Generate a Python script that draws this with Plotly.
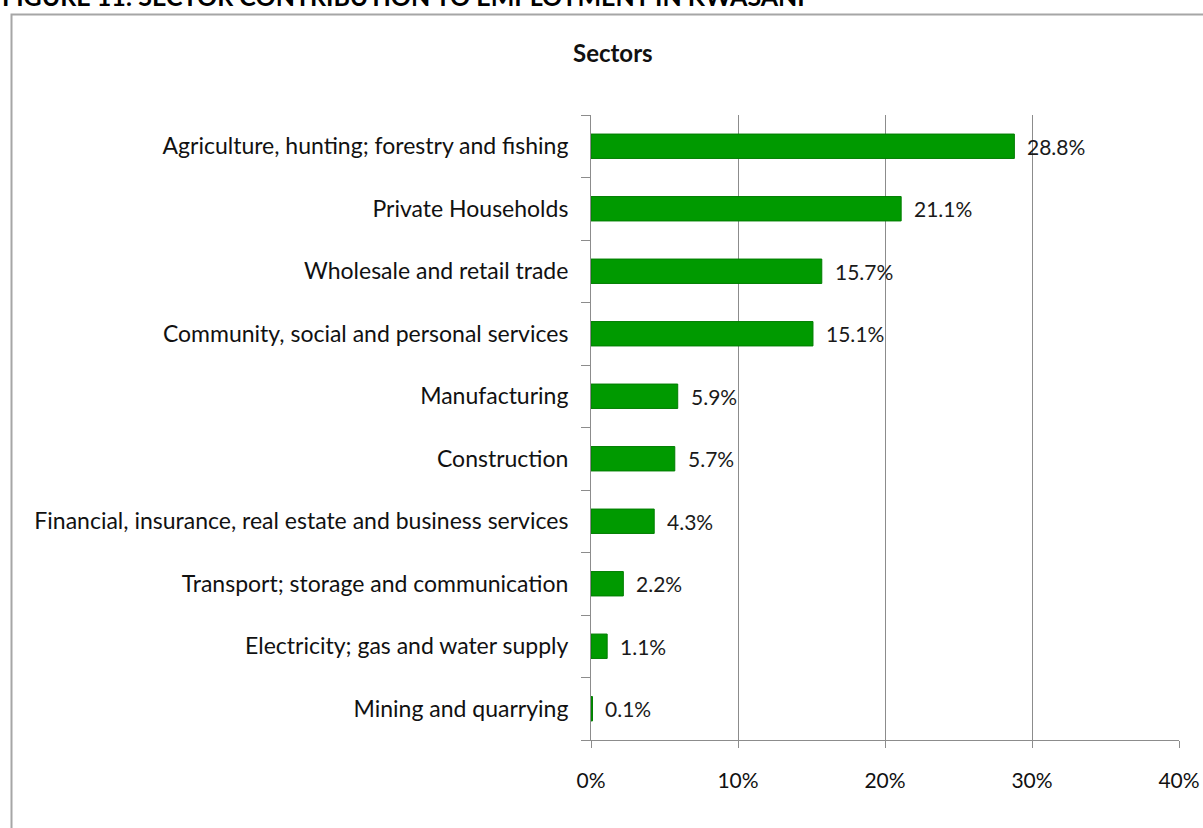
import plotly.graph_objects as go

# Employment share by sector (percent)
sectors = [
    "Agriculture, hunting; forestry and fishing",
    "Private Households",
    "Wholesale and retail trade",
    "Community, social and personal services",
    "Manufacturing",
    "Construction",
    "Financial, insurance, real estate and business services",
    "Transport; storage and communication",
    "Electricity; gas and water supply",
    "Mining and quarrying",
]
shares = [28.8, 21.1, 15.7, 15.1, 5.9, 5.7, 4.3, 2.2, 1.1, 0.1]
x_ticks = [0, 10, 20, 30, 40]
x_tick_labels = ["0%", "10%", "20%", "30%", "40%"]

FONT = "Lato"
W, H = 1203, 828
L, R, T, B = 591, 24, 115, 88
pw, ph = W - L - R, H - T - B

# plot from bottom to top so the largest sector is on top
cats = sectors[::-1]
vals = shares[::-1]

fig = go.Figure()
fig.add_trace(go.Bar(
    y=cats, x=vals, orientation="h",
    marker=dict(color="#009a00", line=dict(color="#007d00", width=1)),
    width=0.39,
    hoverinfo="skip",
))

# value labels beside each bar
for c, v in zip(cats, vals):
    fig.add_annotation(
        x=v, y=c, text=f"{v:.1f}%", showarrow=False,
        xanchor="left", yanchor="middle", xshift=11,
        font=dict(family=FONT, size=21, color="#1a1a1a"),
    )

fig.add_annotation(
    x=(613 - L) / pw, y=1 + (T - 52) / ph, xref="paper", yref="paper",
    text="<b>Sectors</b>", showarrow=False, xanchor="center", yanchor="middle",
    font=dict(family=FONT, size=24, color="#111111"),
)

# page caption above the chart frame
fig.add_annotation(
    x=(0 - L) / pw, y=1 + (T + 4) / ph, xref="paper", yref="paper",
    text="<b>FIGURE 11: SECTOR CONTRIBUTION TO EMPLOYMENT IN KWASANI</b>",
    showarrow=False, xanchor="left", yanchor="middle",
    font=dict(family=FONT, size=25, color="#000000"),
)

# chart frame
fig.add_shape(
    type="rect", xref="paper", yref="paper",
    x0=(11.5 - L) / pw, x1=(W + 20 - L) / pw,
    y0=-(B + 20) / ph, y1=1 + (T - 14.5) / ph,
    line=dict(color="#a6a6a6", width=2), fillcolor="rgba(0,0,0,0)",
    layer="below",
)

fig.update_layout(
    width=W, height=H,
    margin=dict(l=L, r=R, t=T, b=B, autoexpand=False),
    paper_bgcolor="white", plot_bgcolor="white",
    showlegend=False,
    font=dict(family=FONT, size=21, color="#111111"),
    xaxis=dict(
        range=[0, 40], tickvals=x_ticks, ticktext=x_tick_labels,
        showgrid=True, gridcolor="#8c8c8c", gridwidth=1,
        showline=True, linecolor="#8c8c8c", linewidth=1,
        ticks="outside", ticklen=7, tickcolor="#8c8c8c",
        ticklabelstandoff=15, zeroline=False, automargin=False,
        tickfont=dict(family=FONT, size=21, color="#111111"),
        fixedrange=True,
    ),
    yaxis=dict(
        categoryorder="array", categoryarray=cats,
        showline=True, linecolor="#8c8c8c", linewidth=1,
        ticks="outside", ticklen=9, tickcolor="#8c8c8c",
        tickson="boundaries", ticklabelstandoff=17, automargin=False,
        showgrid=False,
        tickfont=dict(family=FONT, size=23, color="#111111"),
        fixedrange=True,
    ),
)

fig.write_html("out.html")
